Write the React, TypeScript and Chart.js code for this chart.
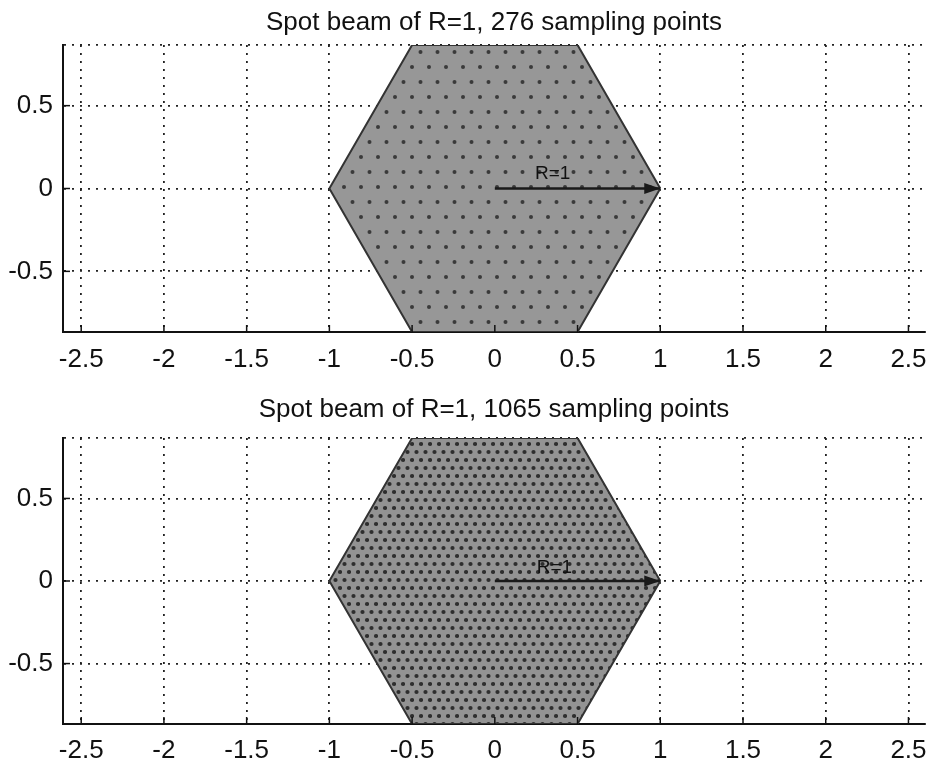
import React, { useEffect, useRef } from 'react';
import { Chart, registerables } from 'chart.js';

Chart.register(...registerables);

// ---- data ----
const xTicks = [-2.5, -2, -1.5, -1, -0.5, 0, 0.5, 1, 1.5, 2, 2.5];
const yTicks = [-0.5, 0, 0.5];
const xLimits = [-2.61, 2.6];
const yLimits = [-0.866, 0.866];
const hexX = [1, 0.5, -0.5, -1, -0.5, 0.5, 1];
const hexY = [0, 0.866, 0.866, 0, -0.866, -0.866, 0];
const arrowX = [0, 1];
const arrowY = [0, 0];
const radiusLabel = 'R=1';
const radiusLabelX = [0.35, 0.36];
const radiusLabelY = [0.09, 0.08];
const titles = [
  'Spot beam of R=1, 276 sampling points',
  'Spot beam of R=1, 1065 sampling points',
];

const FONT = "'Liberation Sans', Arial, Helvetica, sans-serif";

type PanelLayout = {
  top: number;
  height: number;
  titleY: number;
  areaTop: number;
  areaBottom: number;
  tickPad: number;
  tile: [number, number];
  dots: [number, number][];
  dotR: number;
  base: string;
  dot: string;
};

const layouts: PanelLayout[] = [
  {
    top: 0, height: 384, titleY: 23, areaTop: 45, areaBottom: 332, tickPad: 12,
    tile: [17, 30], dots: [[4, 7], [12.5, 22]], dotR: 2, base: '#979797', dot: '#3a3a3a',
  },
  {
    top: 384, height: 384, titleY: 26, areaTop: 54, areaBottom: 340, tickPad: 11,
    tile: [9, 16], dots: [[2.5, 4], [7, 12]], dotR: 2.1, base: '#939393', dot: '#2e2e2e',
  },
];

function makePattern(l: PanelLayout): CanvasPattern | string {
  const c = document.createElement('canvas');
  c.width = l.tile[0];
  c.height = l.tile[1];
  const g = c.getContext('2d');
  if (!g) return l.base;
  g.fillStyle = l.base;
  g.fillRect(0, 0, c.width, c.height);
  g.fillStyle = l.dot;
  l.dots.forEach(([dx, dy]) => {
    g.beginPath();
    g.arc(dx, dy, l.dotR, 0, Math.PI * 2);
    g.fill();
  });
  return g.createPattern(c, 'repeat') || l.base;
}

function Panel({ index }: { index: number }) {
  const ref = useRef<HTMLCanvasElement | null>(null);
  const l = layouts[index];

  useEffect(() => {
    if (!ref.current) return;
    const pattern = makePattern(l);

    const overlay = {
      id: 'overlay' + index,
      afterDatasetsDraw(chart: any) {
        const { ctx, chartArea } = chart;
        const xs = chart.scales.x;
        const ys = chart.scales.y;
        ctx.save();
        ctx.setLineDash([]);
        // inward tick marks
        ctx.strokeStyle = '#111';
        ctx.lineWidth = 1.5;
        xTicks.forEach((v) => {
          const px = xs.getPixelForValue(v);
          ctx.beginPath();
          ctx.moveTo(px, chartArea.bottom);
          ctx.lineTo(px, chartArea.bottom - 7);
          ctx.stroke();
        });
        yTicks.forEach((v) => {
          const py = ys.getPixelForValue(v);
          ctx.beginPath();
          ctx.moveTo(chartArea.left, py);
          ctx.lineTo(chartArea.left + 7, py);
          ctx.stroke();
        });
        // arrow head
        const x0 = xs.getPixelForValue(arrowX[0]);
        const y0 = ys.getPixelForValue(arrowY[0]);
        const x1 = xs.getPixelForValue(arrowX[1]);
        const y1 = ys.getPixelForValue(arrowY[1]);
        const ang = Math.atan2(y1 - y0, x1 - x0);
        const len = 16;
        const half = 5.5;
        ctx.fillStyle = '#1a1a1a';
        ctx.beginPath();
        ctx.moveTo(x1, y1);
        ctx.lineTo(x1 - len * Math.cos(ang) - half * Math.sin(ang), y1 - len * Math.sin(ang) + half * Math.cos(ang));
        ctx.lineTo(x1 - len * Math.cos(ang) + half * Math.sin(ang), y1 - len * Math.sin(ang) - half * Math.cos(ang));
        ctx.closePath();
        ctx.fill();
        // R=1 label
        ctx.fillStyle = '#111';
        ctx.font = `19px ${FONT}`;
        ctx.textAlign = 'center';
        ctx.textBaseline = 'middle';
        ctx.fillText(radiusLabel, xs.getPixelForValue(radiusLabelX[index]), ys.getPixelForValue(radiusLabelY[index]));
        // title
        ctx.font = `26px ${FONT}`;
        ctx.fillText(titles[index], (chartArea.left + chartArea.right) / 2, l.titleY);
        ctx.restore();
      },
    };

    const chart = new Chart(ref.current, {
      type: 'scatter',
      data: {
        datasets: [
          {
            label: 'radius',
            data: arrowX.map((v, i) => ({ x: v, y: arrowY[i] })),
            showLine: true,
            fill: false,
            borderColor: '#1a1a1a',
            borderWidth: 2.5,
            pointRadius: 0,
            order: 0,
          },
          {
            label: 'beam',
            data: hexX.map((v, i) => ({ x: v, y: hexY[i] })),
            showLine: true,
            fill: 'shape',
            backgroundColor: pattern as any,
            borderColor: '#333',
            borderWidth: 2,
            pointRadius: 0,
            tension: 0,
            order: 1,
          },
        ],
      },
      options: {
        animation: false,
        responsive: false,
        devicePixelRatio: 1,
        layout: { padding: { top: l.areaTop, left: 0, right: 2, bottom: 0 } },
        plugins: { legend: { display: false }, tooltip: { enabled: false }, title: { display: false } },
        scales: {
          x: {
            type: 'linear',
            min: xLimits[0],
            max: xLimits[1],
            afterBuildTicks: (s: any) => {
              s.ticks = xTicks.map((v) => ({ value: v }));
            },
            afterFit: (s: any) => {
              s.height = l.height - l.areaBottom;
              s.paddingLeft = 0;
              s.paddingRight = 0;
            },
            ticks: {
              autoSkip: false,
              maxRotation: 0,
              padding: l.tickPad,
              color: '#111',
              font: { family: FONT, size: 26 },
              callback: (v: any) => String(v),
            },
            grid: {
              drawTicks: false,
              color: '#222',
              lineWidth: 1.8,
            },
            border: { display: true, color: '#111', width: 2, dash: [2, 6] },
          },
          y: {
            type: 'linear',
            min: yLimits[0],
            max: yLimits[1],
            afterBuildTicks: (s: any) => {
              s.ticks = [yLimits[0], ...yTicks, yLimits[1]].map((v) => ({ value: v }));
            },
            afterFit: (s: any) => {
              s.width = 63;
              s.paddingTop = 0;
              s.paddingBottom = 0;
            },
            ticks: {
              autoSkip: false,
              padding: 10,
              color: '#111',
              font: { family: FONT, size: 26 },
              callback: (v: any) => (yTicks.includes(v) ? String(v) : ''),
            },
            grid: {
              drawTicks: false,
              color: '#222',
              lineWidth: 1.8,
            },
            border: { display: true, color: '#111', width: 2, dash: [2, 6] },
          },
        },
      },
      plugins: [overlay],
    } as any);

    return () => chart.destroy();
  }, [index]);

  return (
    <canvas
      ref={ref}
      width={927}
      height={l.height}
      style={{ position: 'absolute', left: 0, top: l.top, width: 927, height: l.height }}
    />
  );
}

export default function App() {
  return (
    <div style={{ position: 'absolute', left: 0, top: 0, width: 927, height: 768, background: '#fff', overflow: 'hidden' }}>
      <Panel index={0} />
      <Panel index={1} />
    </div>
  );
}
